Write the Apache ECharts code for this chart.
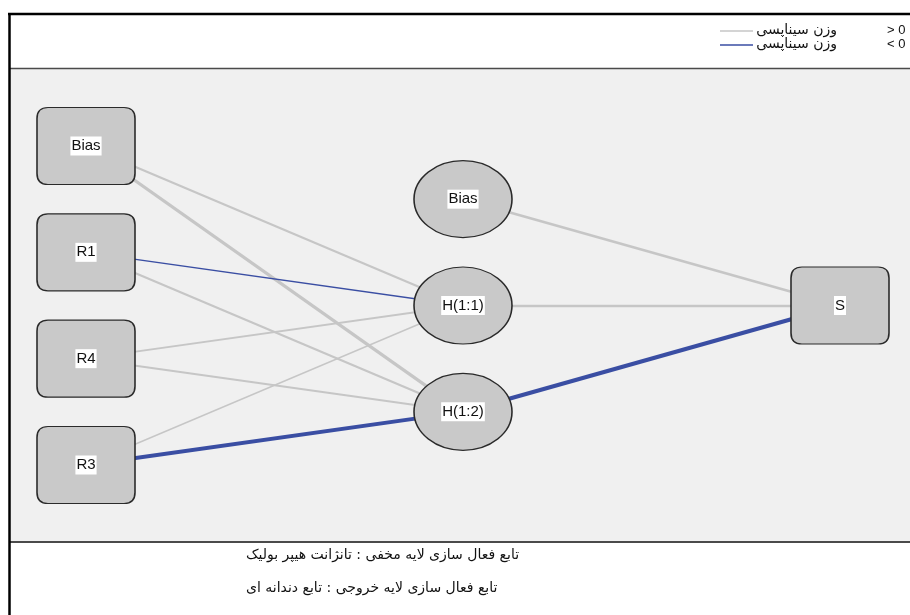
<!DOCTYPE html>
<html>
<head>
<meta charset="utf-8">
<script src="https://cdn.jsdelivr.net/npm/echarts@6/dist/echarts.min.js"></script>
<style>
html,body{margin:0;padding:0;background:#fff;}
#chart{width:910px;height:615px;}
</style>
</head>
<body>
<div id="chart"></div>
<script>
// ---- data ----
const nodeLabels = ['Bias', 'R1', 'R4', 'R3', 'Bias', 'H(1:1)', 'H(1:2)', 'S'];
const nodeLayer  = [0, 0, 0, 0, 1, 1, 1, 2];
const nodeRow    = [0, 1, 2, 3, 0.5, 1.5, 2.5, 1.5];
const linkSource = [0, 0, 1, 1, 2, 2, 3, 3, 4, 5, 6];
const linkTarget = [5, 6, 5, 6, 5, 6, 5, 6, 7, 7, 7];
const linkWeight = [0.35, 0.6, -0.12, 0.35, 0.25, 0.3, 0.15, -0.75, 0.45, 0.4, -0.85];
const legendLabels = ['وزن سیناپسی', 'وزن سیناپسی'];
const legendSigns  = ['> 0', '< 0'];
const footnotes = [
  'تابع فعال سازی لایه مخفی : تانژانت هیپر بولیک',
  'تابع فعال سازی لایه خروجی : تابع دندانه ای'
];

// ---- styles ----
const POS = '#c6c6c6', NEG = '#3a4ea3';
const roundRect = 'path://M11,0 L87,0 Q98,0 98,11 L98,66 Q98,77 87,77 L11,77 Q0,77 0,66 L0,11 Q0,0 11,0 Z';

const nodes = nodeLabels.map((lab, i) => ({
  name: 'n' + i,
  value: [nodeLayer[i], nodeRow[i]],
  symbol: nodeLayer[i] === 1 ? 'circle' : roundRect,
  symbolSize: [98, 77],
  label: { formatter: () => lab }
}));
const links = linkSource.map((s, i) => {
  const w = linkWeight[i];
  return {
    source: s, target: linkTarget[i],
    lineStyle: {
      color: w >= 0 ? POS : NEG,
      width: 0.8 + Math.abs(w) * 4,
      opacity: 1, curveness: 0
    }
  };
});

const chart = echarts.init(document.getElementById('chart'), null, { renderer: 'canvas' });

const graphic = [
  { type: 'rect', shape: { x: 10, y: 68, width: 900, height: 473 }, style: { fill: '#f0f0f0' }, z: -10 },
  { type: 'line', shape: { x1: 10, y1: 68.5, x2: 910, y2: 68.5 }, style: { stroke: '#4a4a4a', lineWidth: 1.5 }, z: -5 },
  { type: 'line', shape: { x1: 10, y1: 542, x2: 910, y2: 542 }, style: { stroke: '#4a4a4a', lineWidth: 2 }, z: -5 },
  { type: 'line', shape: { x1: 8, y1: 14, x2: 910, y2: 14 }, style: { stroke: '#000', lineWidth: 2.5 }, z: -5 },
  { type: 'line', shape: { x1: 9.5, y1: 13, x2: 9.5, y2: 615 }, style: { stroke: '#000', lineWidth: 2.5 }, z: -5 }
];
legendLabels.forEach((t, i) => {
  const y = 30 + i * 14;
  graphic.push({ type: 'line', shape: { x1: 720, y1: y + 1, x2: 753, y2: y + 1 },
    style: { stroke: i === 0 ? POS : NEG, lineWidth: 1.3 } });
  graphic.push({ type: 'text', x: 837, y: y, style: { text: t, fill: '#111', font: '14px "DejaVu Sans"', textAlign: 'right', textVerticalAlign: 'middle' } });
  graphic.push({ type: 'text', x: 887, y: y, style: { text: legendSigns[i], fill: '#111', font: '13px "Liberation Sans"', textAlign: 'left', textVerticalAlign: 'middle' } });
});
footnotes.forEach((t, i) => {
  graphic.push({ type: 'text', x: 246, y: 555 + i * 33, style: { text: t, fill: '#111', font: '14px "DejaVu Sans"', textAlign: 'left', textVerticalAlign: 'middle' } });
});

chart.setOption({
  animation: false,
  backgroundColor: '#ffffff',
  graphic: graphic,
  grid: { left: 86, top: 146, width: 754, height: 319, show: false },
  xAxis: { type: 'value', min: 0, max: 2, show: false },
  yAxis: { type: 'value', min: 0, max: 3, inverse: true, show: false },
  series: [{
    type: 'graph',
    coordinateSystem: 'cartesian2d',
    layout: 'none',
    data: nodes,
    links: links,
    edgeSymbol: ['none', 'none'],
    itemStyle: { color: '#c9c9c9', borderColor: '#2a2a2a', borderWidth: 1.4, opacity: 1 },
    label: {
      show: true, position: 'inside', color: '#111',
      fontFamily: 'Liberation Sans', fontSize: 15,
      backgroundColor: '#ffffff', padding: [2, 1]
    },
    emphasis: { disabled: true }
  }]
});
</script>
</body>
</html>
